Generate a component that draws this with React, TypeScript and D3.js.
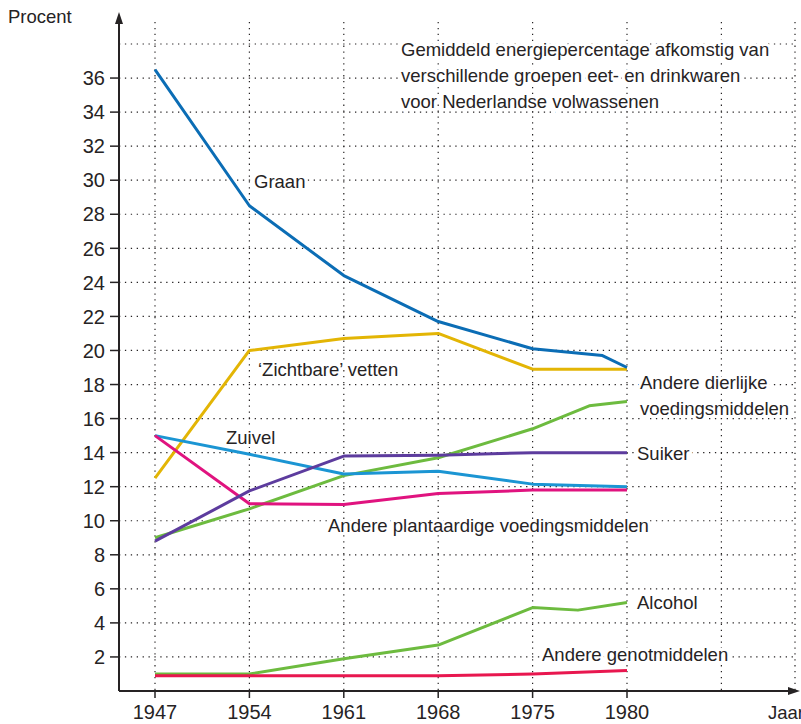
import React from 'react';
import * as d3 from 'd3';

// year slots on the x axis (1975 -> 1980 gets the same width as the 7-year steps)
const yearSlots = [1947, 1954, 1961, 1968, 1975, 1980, 1985];
const yearLabels = [1947, 1954, 1961, 1968, 1975, 1980];
const yTicks = [2, 4, 6, 8, 10, 12, 14, 16, 18, 20, 22, 24, 26, 28, 30, 32, 34, 36];
const yGrid = [...yTicks, 38];

const titleLines = [
  'Gemiddeld energiepercentage afkomstig van',
  'verschillende groepen eet- en drinkwaren',
  'voor Nederlandse volwassenen',
];

const graanYears = [1947, 1954, 1961, 1968, 1975, 1978.7, 1980];
const graanValues = [36.5, 28.5, 24.4, 21.7, 20.1, 19.7, 19.0];

const vettenYears = [1947, 1954, 1961, 1968, 1975, 1980];
const vettenValues = [12.5, 20.0, 20.7, 21.0, 18.9, 18.9];

const zuivelYears = [1947, 1954, 1961, 1968, 1975, 1980];
const zuivelValues = [15.0, 13.9, 12.75, 12.9, 12.15, 12.0];

const suikerYears = [1947, 1954, 1961, 1968, 1975, 1980];
const suikerValues = [8.8, 11.75, 13.8, 13.85, 14.0, 14.0];

const plantYears = [1947, 1954, 1961, 1968, 1975, 1980];
const plantValues = [15.0, 11.0, 10.95, 11.6, 11.8, 11.8];

const dierYears = [1947, 1954, 1961, 1968, 1975, 1978, 1980];
const dierValues = [9.0, 10.7, 12.65, 13.7, 15.4, 16.75, 17.0];

const alcoholYears = [1947, 1954, 1961, 1968, 1975, 1977.4, 1980];
const alcoholValues = [1.0, 1.0, 1.9, 2.7, 4.9, 4.75, 5.2];

const genotYears = [1947, 1954, 1961, 1968, 1975, 1980];
const genotValues = [0.9, 0.9, 0.9, 0.9, 1.0, 1.2];

const series = [
  { name: 'vetten', years: vettenYears, values: vettenValues, color: '#e3b505' },
  { name: 'graan', years: graanYears, values: graanValues, color: '#0b6db5' },
  { name: 'dier', years: dierYears, values: dierValues, color: '#6dbb3f' },
  { name: 'zuivel', years: zuivelYears, values: zuivelValues, color: '#1b95d3' },
  { name: 'plant', years: plantYears, values: plantValues, color: '#e0137f' },
  { name: 'suiker', years: suikerYears, values: suikerValues, color: '#5d3c9e' },
  { name: 'alcohol', years: alcoholYears, values: alcoholValues, color: '#6dbb3f' },
  { name: 'genot', years: genotYears, values: genotValues, color: '#e8174f' },
];

const labels = [
  { text: 'Graan', x: 254, y: 188 },
  { text: '\u2018Zichtbare\u2019 vetten', x: 258, y: 376 },
  { text: 'Zuivel', x: 226, y: 444 },
  { text: 'Andere plantaardige voedingsmiddelen', x: 328, y: 532 },
  { text: 'Andere dierlijke', x: 640, y: 389 },
  { text: 'voedingsmiddelen', x: 640, y: 415 },
  { text: 'Suiker', x: 637, y: 460 },
  { text: 'Alcohol', x: 637, y: 609 },
  { text: 'Andere genotmiddelen', x: 542, y: 661 },
];

const W = 801;
const H = 724;
const axisX = 119;
const axisY = 691;
const firstX = 155;
const step = 94.4;
const rightEdge = 795;
const FONT = '"Liberation Sans", Arial, sans-serif';
const INK = '#262324';
const LABEL_SIZE = 18.5;

export default function App() {
  const x = d3.scaleLinear()
    .domain(yearSlots)
    .range(yearSlots.map((_, i) => firstX + i * step));
  const y = d3.scaleLinear().domain([0, 38]).range([axisY, 44]);

  const line = d3.line<[number, number]>()
    .x(d => x(d[0]))
    .y(d => y(d[1]));

  const gridDash = '1.3 4.6';

  return (
    <svg width={W} height={H} style={{ position: 'absolute', left: 0, top: 0, background: '#fff' }}>
      {/* horizontal grid */}
      {yGrid.map(v => (
        <line key={'h' + v} x1={axisX} x2={rightEdge} y1={y(v)} y2={y(v)}
          stroke={INK} strokeWidth={1.2} strokeDasharray={gridDash} />
      ))}
      {/* vertical grid */}
      {yearSlots.map(yr => (
        <line key={'v' + yr} x1={x(yr)} x2={x(yr)} y1={22} y2={axisY}
          stroke={INK} strokeWidth={1.2} strokeDasharray={gridDash} />
      ))}
      <line x1={rightEdge} x2={rightEdge} y1={22} y2={axisY}
        stroke={INK} strokeWidth={1.2} strokeDasharray={gridDash} />

      {/* title */}
      {titleLines.map((t, i) => (
        <text key={t} x={401} y={56 + i * 26} fontFamily={FONT} fontSize={LABEL_SIZE} fill={INK}
          stroke="#fff" strokeWidth={6} paintOrder="stroke">{t}</text>
      ))}

      {/* series */}
      {series.map(s => (
        <path key={s.name} d={line(s.years.map((yr, i) => [yr, s.values[i]] as [number, number])) || ''}
          fill="none" stroke={s.color} strokeWidth={3} strokeLinejoin="round" />
      ))}

      {/* series labels */}
      {labels.map(l => (
        <text key={l.text} x={l.x} y={l.y} fontFamily={FONT} fontSize={LABEL_SIZE} fill={INK}
          stroke="#fff" strokeWidth={6} paintOrder="stroke">{l.text}</text>
      ))}

      {/* axes */}
      <line x1={axisX} x2={axisX} y1={axisY} y2={22} stroke={INK} strokeWidth={2} />
      <path d={`M${axisX},12 L${axisX - 4},24 L${axisX + 4},24 Z`} fill={INK} />
      <line x1={axisX} x2={790} y1={axisY} y2={axisY} stroke={INK} strokeWidth={2} />
      <path d={`M800,${axisY} L788,${axisY - 4} L788,${axisY + 4} Z`} fill={INK} />

      {yTicks.map(v => (
        <g key={'t' + v}>
          <line x1={axisX - 9} x2={axisX} y1={y(v)} y2={y(v)} stroke={INK} strokeWidth={1.5} />
          <text x={axisX - 14} y={y(v)} dy="0.36em" textAnchor="end" fontFamily={FONT}
            fontSize={20} fill={INK}>{v}</text>
        </g>
      ))}
      {yearLabels.map(yr => (
        <g key={'xt' + yr}>
          <line x1={x(yr)} x2={x(yr)} y1={axisY} y2={axisY + 7} stroke={INK} strokeWidth={1.5} />
          <text x={x(yr)} y={719} textAnchor="middle" fontFamily={FONT} fontSize={20} fill={INK}>{yr}</text>
        </g>
      ))}

      <text x={8} y={23} fontFamily={FONT} fontSize={LABEL_SIZE} fill={INK}>Procent</text>
      <text x={768} y={719} fontFamily={FONT} fontSize={LABEL_SIZE} fill={INK}>Jaar</text>
    </svg>
  );
}
